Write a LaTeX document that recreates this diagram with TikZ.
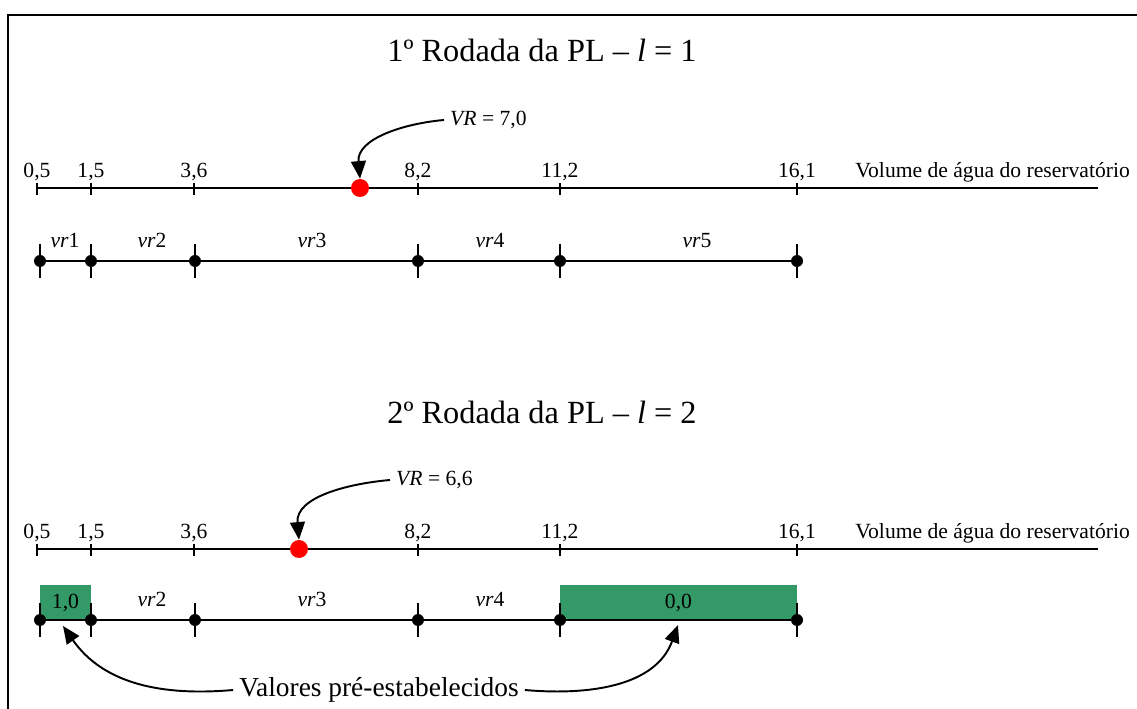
\documentclass[tikz,border=0pt]{standalone}
\usepackage{fontspec}
\setmainfont{Liberation Serif}
\usetikzlibrary{arrows.meta}
\definecolor{fixgreen}{RGB}{51,153,102}
\definecolor{vrred}{RGB}{255,0,0}

\begin{document}
\begin{tikzpicture}[x=0.02cm, y=-0.02cm, font=\fontsize{12.3}{14}\selectfont,
    axisline/.style={line width=0.9pt},
    scalelbl/.style={anchor=base, inner sep=0pt},
    reddot/.style={circle, fill=vrred, inner sep=0pt, minimum size=0.36cm},
    blackdot/.style={circle, fill=black, inner sep=0pt, minimum size=0.24cm},
    vrarrow/.style={-{Triangle[length=10pt,width=8.5pt]}, line width=1.1pt},
    roundtitle/.style={font=\fontsize{18.4}{22}\selectfont},
    fixbox/.style={fill=fixgreen, inner sep=0pt, minimum width=1.02cm,
                   minimum height=0.7cm}]

  \useasboundingbox (0,0) rectangle (1137,709);

  % Frame
  \draw[line width=1.2pt] (8,740) -- (8,15) -- (1160,15);

  % Round 1
  \node[roundtitle] (title1) at (542,50)
    {1º Rodada da PL – \textit{l} = 1};

  \coordinate (ax1s) at (37,188);
  \coordinate (ax1e) at (1098,188);
  \draw[axisline] (ax1s) -- (ax1e);
  \foreach \x/\v [count=\i] in {37/{0,5},91/{1,5},194/{3,6},418/{8,2},560/{11,2},797/{16,1}} {
    \draw[axisline] (\x,183) -- (\x,195);
    \node[scalelbl] (lbla\i) at (\x,178) {\v};
  }
  \node[anchor=base west, inner sep=0pt] (vol1) at (855,178)
    {Volume de água do reservatório};

  \node[reddot] (vrdot1) at (360,188) {};
  \node[anchor=west] (vrlbl1) at (444,120) {\textit{VR} = 7,0};
  \draw[vrarrow] (vrlbl1.west) to[out=185, in=95] (vrdot1.north);

  \foreach \x [count=\i] in {40,91,195,418,560,797}
    \node[blackdot] (da\i) at (\x,261) {};
  \draw[axisline] (da1.center) -- (da6.center);
  \foreach \x in {40,91,195,418,560,797}
    \draw[axisline] (\x,244) -- (\x,278);
  \foreach \x/\n [count=\i] in {65/1,152/2,312/3,490/4,697/5}
    \node[scalelbl] (vra\i) at (\x,248) {\textit{vr}\n};

  % Round 2
  \node[roundtitle] (title2) at (542,412)
    {2º Rodada da PL – \textit{l} = 2};

  \coordinate (ax2s) at (37,549);
  \coordinate (ax2e) at (1098,549);
  \draw[axisline] (ax2s) -- (ax2e);
  \foreach \x/\v [count=\i] in {37/{0,5},91/{1,5},194/{3,6},418/{8,2},560/{11,2},797/{16,1}} {
    \draw[axisline] (\x,544) -- (\x,556);
    \node[scalelbl] (lblb\i) at (\x,539) {\v};
  }
  \node[anchor=base west, inner sep=0pt] (vol2) at (855,539)
    {Volume de água do reservatório};

  \node[reddot] (vrdot2) at (299,549) {};
  \node[anchor=west] (vrlbl2) at (390,480) {\textit{VR} = 6,6};
  \draw[vrarrow] (vrlbl2.west) to[out=185, in=95] (vrdot2.north);

  % pre-set values
  \node[fixbox] (fix1) at (65.5,602.5) {1,0};
  \node[fixbox, minimum width=4.74cm] (fix5) at (678.5,602.5) {0,0};

  \foreach \x [count=\i] in {40,91,195,418,560,797}
    \node[blackdot] (db\i) at (\x,620) {};
  \draw[axisline] (db1.center) -- (db6.center);
  \foreach \x in {40,91,195,418,560,797}
    \draw[axisline] (\x,603) -- (\x,637);
  \foreach \x/\n [count=\i] in {152/2,312/3,490/4}
    \node[scalelbl] (vrb\i) at (\x,607) {\textit{vr}\n};

  \node[font=\fontsize{15.6}{18}\selectfont] (vals) at (379,690)
    {Valores pré-estabelecidos};
  \coordinate (tip1) at (63,626);
  \coordinate (tip5) at (678,625);
  \draw[vrarrow] (vals.west) to[out=185, in=-55] (tip1);
  \draw[vrarrow] (vals.east) to[out=-5, in=-110] (tip5);

\end{tikzpicture}
\end{document}
